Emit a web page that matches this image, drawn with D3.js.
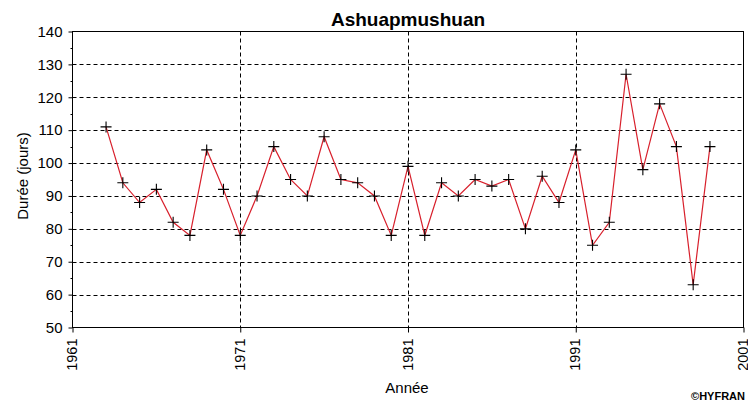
<!DOCTYPE html>
<html>
<head>
<meta charset="utf-8">
<script src="https://cdn.jsdelivr.net/npm/d3@7"></script>
<style>
  body { margin: 0; background: #fff; }
  svg { display: block; font-family: Arial, "Liberation Sans", sans-serif; }
</style>
</head>
<body>
<script>
// Données
const annees = d3.range(1963, 2000);
const durees = [111, 94, 88, 92, 82, 78, 104, 92, 78, 90,
                105, 95, 90, 108, 95, 94, 90, 78, 99, 78,
                94, 90, 95, 93, 95, 80, 96, 88, 104, 75,
                82, 127, 98, 118, 105, 63, 105];
const ticksX = [1961, 1971, 1981, 1991, 2001];
const ticksY = [50, 60, 70, 80, 90, 100, 110, 120, 130, 140];

const width = 748, height = 402;
const mLeft = 72.5, mRight = 743.5, mTop = 31.5, mBottom = 327.5;

const svg = d3.select("body").append("svg")
    .attr("width", width)
    .attr("height", height);

const x = d3.scaleLinear().domain([1961, 2001]).range([mLeft, mRight]);
const y = d3.scaleLinear().domain([50, 140]).range([mBottom, mTop]);

// Grille pointillée
svg.append("g")
    .selectAll("line")
    .data(ticksY.slice(1, -1))
    .enter()
    .append("line")
    .attr("x1", mLeft).attr("x2", mRight)
    .attr("y1", d => Math.round(y(d)) + 0.5).attr("y2", d => Math.round(y(d)) + 0.5)
    .attr("stroke", "#000").attr("stroke-dasharray", "4,3");

svg.append("g")
    .selectAll("line")
    .data(ticksX.slice(1, -1))
    .enter()
    .append("line")
    .attr("x1", d => Math.round(x(d)) + 0.5).attr("x2", d => Math.round(x(d)) + 0.5)
    .attr("y1", mTop).attr("y2", mBottom)
    .attr("stroke", "#000").attr("stroke-dasharray", "4,3");

// Cadre
svg.append("rect")
    .attr("x", mLeft).attr("y", mTop)
    .attr("width", mRight - mLeft).attr("height", mBottom - mTop)
    .attr("fill", "none").attr("stroke", "#000");

// Axe Y
const axeY = svg.append("g")
    .attr("transform", `translate(${mLeft},0)`)
    .call(d3.axisLeft(y).tickValues(ticksY).tickSize(4).tickPadding(6));
axeY.select(".domain").remove();
axeY.selectAll("text").attr("font-size", "15px").attr("font-family", "Arial, 'Liberation Sans'").attr("fill", "#000");

// petites graduations
svg.append("g")
    .selectAll("line")
    .data(d3.range(55, 140, 10))
    .enter()
    .append("line")
    .attr("x1", mLeft - 2).attr("x2", mLeft)
    .attr("y1", d => Math.round(y(d)) + 0.5).attr("y2", d => Math.round(y(d)) + 0.5)
    .attr("stroke", "#000");

// Axe X
const axeX = svg.append("g")
    .attr("transform", `translate(0,${mBottom})`)
    .call(d3.axisBottom(x).tickValues(ticksX).tickFormat(d3.format("d")).tickSize(5));
axeX.select(".domain").remove();
axeX.selectAll("text")
    .attr("font-size", "14.5px")
    .attr("font-family", "Arial, 'Liberation Sans'")
    .attr("fill", "#000")
    .attr("text-anchor", "end")
    .attr("transform", "rotate(-90)")
    .attr("x", -11)
    .attr("y", -1)
    .attr("dy", "0.35em");

// Courbe
const ligne = d3.line()
    .x((d, i) => x(annees[i]))
    .y(d => y(d));

svg.append("path")
    .datum(durees)
    .attr("d", ligne)
    .attr("fill", "none")
    .attr("stroke", "#d8202c")
    .attr("stroke-width", 1.2);

// Marqueurs "+"
svg.append("g")
    .selectAll("path")
    .data(durees)
    .enter()
    .append("path")
    .attr("d", (d, i) => {
        const cx = x(annees[i]), cy = y(d);
        return `M${cx - 5.5},${cy}H${cx + 5.5}M${cx},${cy - 5.5}V${cy + 5.5}`;
    })
    .attr("stroke", "#000")
    .attr("stroke-width", 1.1);

// Textes
svg.append("text")
    .attr("x", (mLeft + mRight) / 2).attr("y", 26)
    .attr("text-anchor", "middle")
    .attr("font-size", "19px").attr("font-weight", "bold")
    .text("Ashuapmushuan");

svg.append("text")
    .attr("x", 407).attr("y", 392.5)
    .attr("text-anchor", "middle")
    .attr("font-size", "15px")
    .text("Année");

svg.append("text")
    .attr("transform", "translate(28,176) rotate(-90)")
    .attr("text-anchor", "middle")
    .attr("font-size", "15px")
    .text("Durée (jours)");

svg.append("text")
    .attr("x", 745).attr("y", 400)
    .attr("text-anchor", "end")
    .attr("font-size", "11px").attr("font-weight", "bold")
    .text("©HYFRAN");
</script>
</body>
</html>
